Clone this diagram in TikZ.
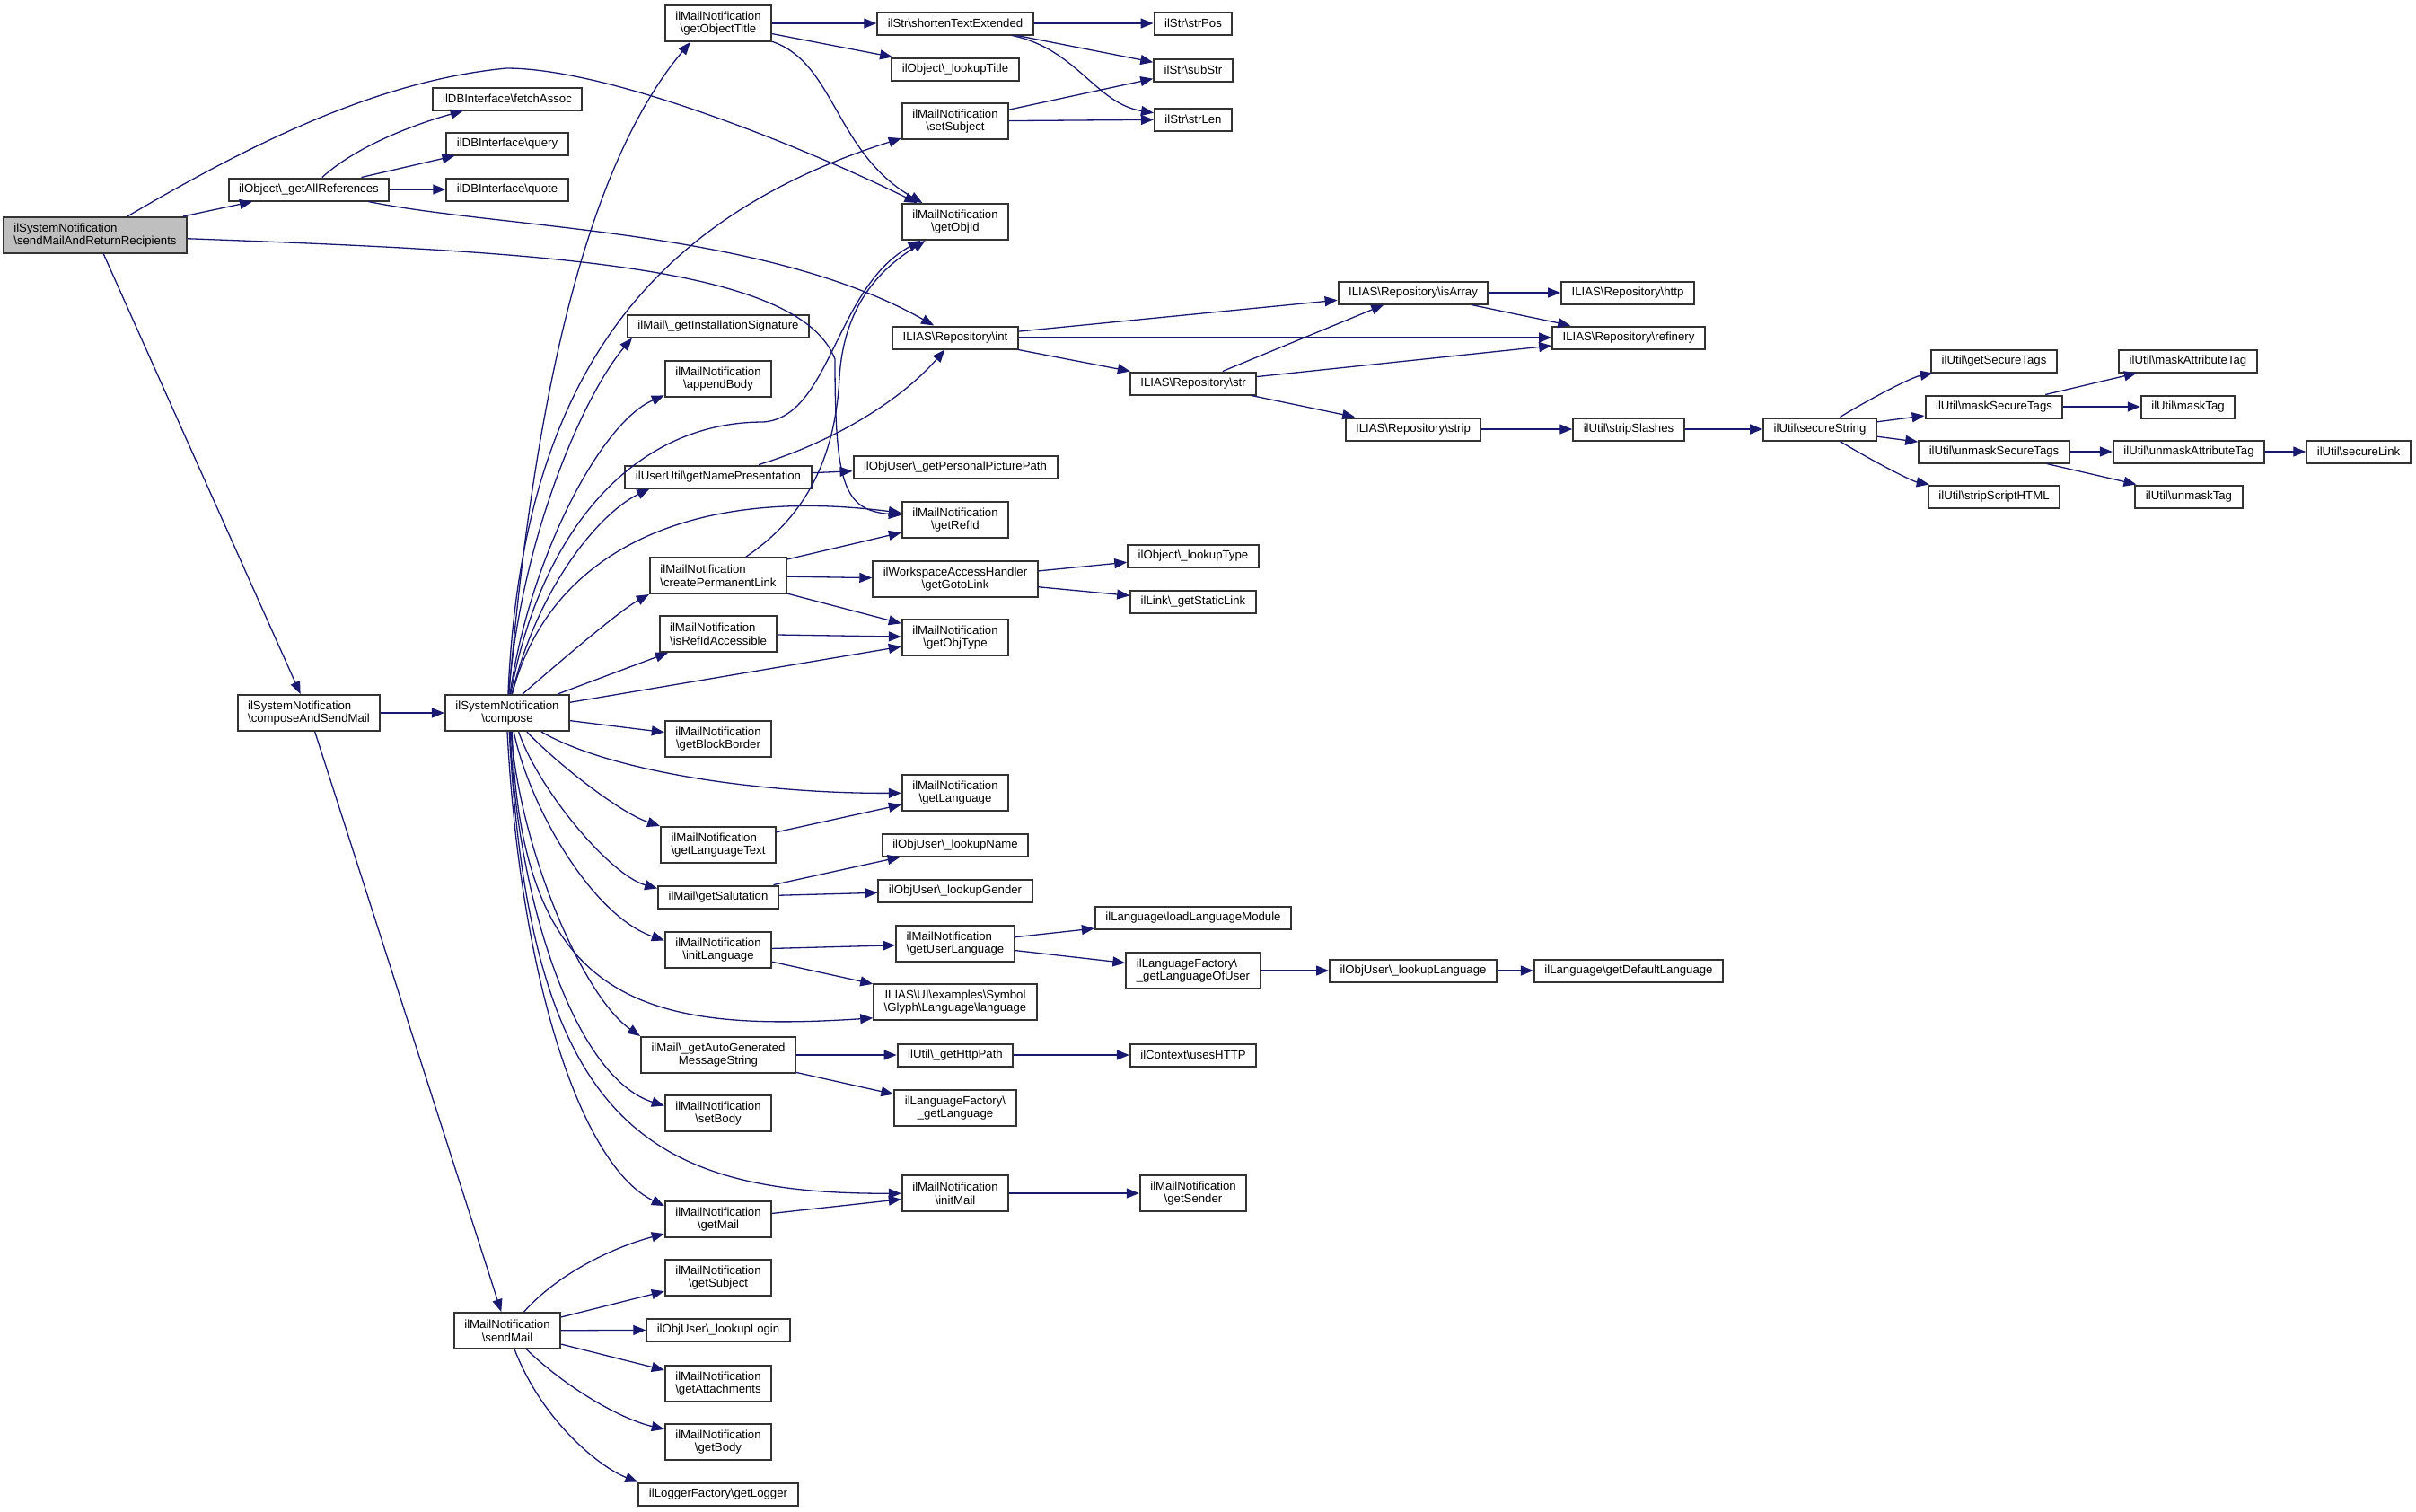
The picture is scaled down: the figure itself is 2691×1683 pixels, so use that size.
\documentclass[tikz,border=0pt]{standalone}
\usepackage{fontspec}
\setmainfont{Liberation Sans}
\usepackage{tikz}
\usetikzlibrary{arrows.meta,positioning}
\definecolor{edgeblue}{RGB}{25,25,112}
\definecolor{rootgray}{RGB}{191,191,191}
\newcommand{\bksl}{\textbackslash}
\tikzstyle{func}=[draw=black!80,line width=1pt,fill=white,rectangle,font=\fontsize{6.6}{7.3}\selectfont,inner xsep=5.75pt,inner ysep=1pt,minimum height=12.5pt]
\tikzstyle{funcc}=[func,minimum height=20pt,align=center]
\tikzstyle{funcl}=[func,minimum height=20pt,align=left]
\tikzstyle{rootfunc}=[funcl,fill=rootgray]
\tikzstyle{call}=[draw=edgeblue,line width=0.65pt,-{Triangle[length=7pt,width=5.5pt]}]

\begin{document}
\begin{tikzpicture}[x=0.5pt,y=-0.5pt]
\useasboundingbox (0,0) rectangle (2691,1683);

% callers
\node [rootfunc] (root) at (106,262) {ilSystemNotification\\\bksl sendMailAndReturnRecipients};
\node [func] (gar) at (344,211) {ilObject\bksl\_getAllReferences};
\node [funcl] (casm) at (344,794) {ilSystemNotification\\\bksl composeAndSendMail};
\node [func] (fetch) at (565,110) {ilDBInterface\bksl fetchAssoc};
\node [func] (query) at (565,160) {ilDBInterface\bksl query};
\node [func] (quote) at (565,211) {ilDBInterface\bksl quote};
\node [funcc] (compose) at (565,794) {ilSystemNotification\\\bksl compose};
\node [funcc] (sendmail) at (565,1482) {ilMailNotification\\\bksl sendMail};

% third column
\node [funcc] (gotitle) at (800,26) {ilMailNotification\\\bksl getObjectTitle};
\node [func] (instsig) at (800,363) {ilMail\bksl\_getInstallationSignature};
\node [funcc] (appbody) at (800,422) {ilMailNotification\\\bksl appendBody};
\node [func] (namepres) at (800,531) {ilUserUtil\bksl getNamePresentation};
\node [funcl] (permlink) at (800,641) {ilMailNotification\\\bksl createPermanentLink};
\node [funcl] (refacc) at (800,706) {ilMailNotification\\\bksl isRefIdAccessible};
\node [funcc] (blockb) at (800,823) {ilMailNotification\\\bksl getBlockBorder};
\node [funcl] (langtext) at (800,941) {ilMailNotification\\\bksl getLanguageText};
\node [func] (salut) at (800,999) {ilMail\bksl getSalutation};
\node [funcc] (initlang) at (800,1058) {ilMailNotification\\\bksl initLanguage};
\node [funcc] (automsg) at (800,1175) {ilMail\bksl\_getAutoGenerated\\MessageString};
\node [funcc] (setbody) at (800,1240) {ilMailNotification\\\bksl setBody};
\node [funcc] (getmail) at (800,1358) {ilMailNotification\\\bksl getMail};
\node [funcc] (getsubj) at (800,1423) {ilMailNotification\\\bksl getSubject};
\node [func] (lookuplogin) at (800,1481) {ilObjUser\bksl\_lookupLogin};
\node [funcc] (attach) at (800,1541) {ilMailNotification\\\bksl getAttachments};
\node [funcc] (getbody) at (800,1606) {ilMailNotification\\\bksl getBody};
\node [func] (logger) at (800,1664) {ilLoggerFactory\bksl getLogger};

% fourth column
\node [func] (shorten) at (1064,26) {ilStr\bksl shortenTextExtended};
\node [func] (lookuptitle) at (1064,77) {ilObject\bksl\_lookupTitle};
\node [funcc] (setsubj) at (1064,135) {ilMailNotification\\\bksl setSubject};
\node [funcc] (objid) at (1064,247) {ilMailNotification\\\bksl getObjId};
\node [func] (int) at (1064,376) {ILIAS\bksl Repository\bksl int};
\node [func] (picpath) at (1064,520) {ilObjUser\bksl\_getPersonalPicturePath};
\node [funcc] (refid) at (1064,579) {ilMailNotification\\\bksl getRefId};
\node [funcc] (gotolink) at (1064,645) {ilWorkspaceAccessHandler\\\bksl getGotoLink};
\node [funcc] (objtype) at (1064,710) {ilMailNotification\\\bksl getObjType};
\node [funcc] (getlang) at (1064,883) {ilMailNotification\\\bksl getLanguage};
\node [func] (lookupname) at (1064,941) {ilObjUser\bksl\_lookupName};
\node [func] (lookupgender) at (1064,992) {ilObjUser\bksl\_lookupGender};
\node [funcl] (userlang) at (1064,1051) {ilMailNotification\\\bksl getUserLanguage};
\node [funcc] (uilang) at (1064,1116) {ILIAS\bksl UI\bksl examples\bksl Symbol\\\bksl Glyph\bksl Language\bksl language};
\node [func] (httppath) at (1064,1175) {ilUtil\bksl\_getHttpPath};
\node [funcc] (lfgetlang) at (1064,1234) {ilLanguageFactory\bksl\\\_getLanguage};
\node [funcc] (initmail) at (1064,1329) {ilMailNotification\\\bksl initMail};

% fifth column
\node [func] (strpos) at (1329,26) {ilStr\bksl strPos};
\node [func] (substr) at (1329,78) {ilStr\bksl subStr};
\node [func] (strlen) at (1329,133) {ilStr\bksl strLen};
\node [func] (str) at (1329,427) {ILIAS\bksl Repository\bksl str};
\node [func] (lookuptype) at (1329,619) {ilObject\bksl\_lookupType};
\node [func] (staticlink) at (1329,670) {ilLink\bksl\_getStaticLink};
\node [func] (loadmod) at (1329,1022) {ilLanguage\bksl loadLanguageModule};
\node [funcl] (langofuser) at (1329,1081) {ilLanguageFactory\bksl\\\_getLanguageOfUser};
\node [func] (useshttp) at (1329,1175) {ilContext\bksl usesHTTP};
\node [funcc] (sender) at (1329,1329) {ilMailNotification\\\bksl getSender};

% right part
\node [func] (isarray) at (1574,326) {ILIAS\bksl Repository\bksl isArray};
\node [func] (strip) at (1574,478) {ILIAS\bksl Repository\bksl strip};
\node [func] (lookuplang) at (1574,1081) {ilObjUser\bksl\_lookupLanguage};
\node [func] (http) at (1813,326) {ILIAS\bksl Repository\bksl http};
\node [func] (refinery) at (1814,376) {ILIAS\bksl Repository\bksl refinery};
\node [func] (slashes) at (1814,478) {ilUtil\bksl stripSlashes};
\node [func] (deflang) at (1814,1081) {ilLanguage\bksl getDefaultLanguage};
\node [func] (secstr) at (2027,478) {ilUtil\bksl secureString};
\node [func] (sectags) at (2221,402) {ilUtil\bksl getSecureTags};
\node [func] (masksec) at (2221,453) {ilUtil\bksl maskSecureTags};
\node [func] (unmasksec) at (2221,503) {ilUtil\bksl unmaskSecureTags};
\node [func] (stripscript) at (2221,553) {ilUtil\bksl stripScriptHTML};
\node [func] (maskattr) at (2437,402) {ilUtil\bksl maskAttributeTag};
\node [func] (masktag) at (2437,453) {ilUtil\bksl maskTag};
\node [func] (unmaskattr) at (2438,503) {ilUtil\bksl unmaskAttributeTag};
\node [func] (unmasktag) at (2438,553) {ilUtil\bksl unmaskTag};
\node [func] (seclink) at (2627,503) {ilUtil\bksl secureLink};

% straight calls
\foreach \a/\b in {root/gar, root/casm, gar/query, gar/quote, casm/compose, casm/sendmail,
    compose/refacc, compose/objtype, compose/blockb, gotitle/shorten, gotitle/lookuptitle,
    shorten/strpos, shorten/substr, setsubj/substr, setsubj/strlen, int/isarray, int/refinery,
    int/str, str/isarray, str/refinery, str/strip, isarray/http, isarray/refinery, strip/slashes,
    slashes/secstr, secstr/masksec, secstr/unmasksec, masksec/maskattr, masksec/masktag,
    unmasksec/unmaskattr, unmasksec/unmasktag, unmaskattr/seclink, namepres/picpath,
    permlink/refid, permlink/gotolink, permlink/objtype, gotolink/lookuptype, gotolink/staticlink,
    refacc/objtype, langtext/getlang, salut/lookupname, salut/lookupgender, initlang/userlang,
    initlang/uilang, userlang/loadmod, userlang/langofuser, langofuser/lookuplang,
    lookuplang/deflang, automsg/httppath, automsg/lfgetlang, httppath/useshttp,
    getmail/initmail, initmail/sender, sendmail/getsubj, sendmail/lookuplogin, sendmail/attach}
  \draw [call] (\a) -- (\b);

% curved calls
\draw [call] (root) .. controls (280,160) and (420,90) .. (564,76) .. controls (680,76) and (900,166) .. (objid);
\draw [call] (root) .. controls (600,280) and (890,295) .. (930,400) .. controls (930,540) and (940,568) .. (refid);
\draw [call] (gar) .. controls (400,160) and (470,136) .. (fetch);
\draw [call] (gar) .. controls (560,255) and (850,255) .. (int);
\draw [call] (gotitle) .. controls (930,70) and (930,170) .. (objid);
\draw [call] (shorten) .. controls (1200,55) and (1220,115) .. (strlen);
\draw [call] (namepres) .. controls (920,495) and (1000,450) .. (int);
\draw [call] (permlink) .. controls (890,580) and (930,520) .. (935,420) .. controls (940,340) and (980,300) .. (objid);
\draw [call] (secstr) .. controls (2090,440) and (2130,420) .. (sectags);
\draw [call] (secstr) .. controls (2090,516) and (2130,536) .. (stripscript);

% compose fan
\draw [call] (compose) .. controls (590,500) and (640,200) .. (gotitle.-146);
\draw [call] (compose) .. controls (580,450) and (700,250) .. (setsubj);
\draw [call] (compose) .. controls (600,600) and (700,470) .. (850,470) .. controls (925,465) and (930,320) .. (objid);
\draw [call] (compose) .. controls (580,600) and (650,440) .. (instsig.-172);
\draw [call] (compose) .. controls (590,620) and (670,470) .. (appbody.-163);
\draw [call] (compose) .. controls (600,650) and (670,570) .. (namepres.-170);
\draw [call] (compose) .. controls (610,620) and (760,540) .. (refid);
\draw [call] (compose.51) .. controls (620,740) and (690,680) .. (permlink.south west);
\draw [call] (compose.-29) .. controls (680,860) and (850,884) .. (getlang);
\draw [call] (compose.-44) .. controls (620,850) and (690,905) .. (langtext.north west);
\draw [call] (compose.-59) .. controls (600,880) and (680,975) .. (salut.172);
\draw [call] (compose.-71) .. controls (590,900) and (660,1020) .. (initlang.170);
\draw [call] (compose.-76) .. controls (580,1120) and (720,1150) .. (uilang.-169);
\draw [call] (compose.-79) .. controls (580,950) and (650,1110) .. (automsg.north west);
\draw [call] (compose.-81) .. controls (575,1000) and (640,1200) .. (setbody.172);
\draw [call] (compose.-84) .. controls (590,1250) and (720,1330) .. (initmail);
\draw [call] (compose.south) .. controls (580,1100) and (650,1300) .. (getmail.166);

% sendMail fan
\draw [call] (sendmail) .. controls (620,1420) and (680,1390) .. (getmail);
\draw [call] (sendmail) .. controls (630,1545) and (690,1580) .. (getbody);
\draw [call] (sendmail) .. controls (605,1585) and (670,1635) .. (logger.north west);

\end{tikzpicture}
\end{document}
